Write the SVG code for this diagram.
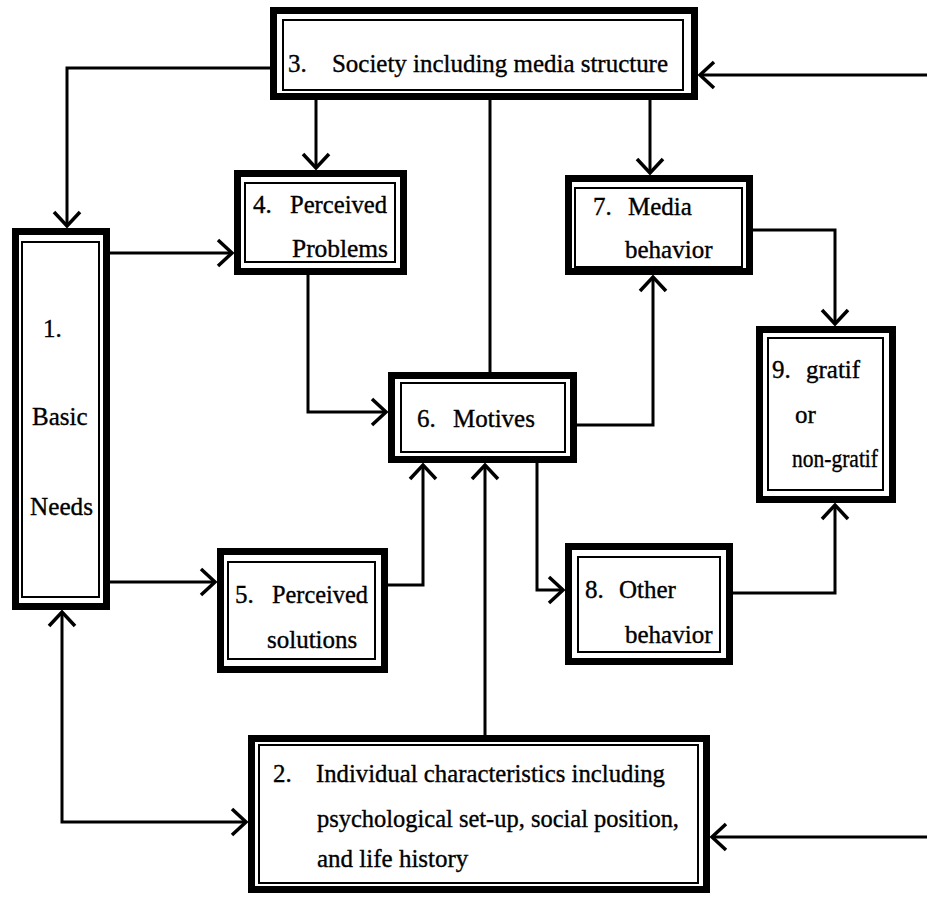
<svg xmlns="http://www.w3.org/2000/svg" width="927" height="897" viewBox="0 0 927 897">
<style>
.outer{fill:#fff;stroke:#000;stroke-width:7}
.inner{fill:none;stroke:#000;stroke-width:2}
.t{font-family:"Liberation Serif","Times New Roman",serif;font-size:25px;fill:#000;stroke:#000;stroke-width:0.35}
.c{fill:none;stroke:#000;stroke-width:3}
</style>
<defs>
<marker id="ah" viewBox="-18 -15 21 30" refX="0" refY="0" markerWidth="21" markerHeight="30" markerUnits="userSpaceOnUse" orient="auto-start-reverse">
<path d="M-14,-13 L0,0 L-14,13" fill="none" stroke="#000" stroke-width="3.5"/>
</marker>
</defs>
<rect width="927" height="897" fill="#fff"/>
<g id="connectors">
<polyline class="c" points="270,68 67,68 67,226" marker-end="url(#ah)"/>
<polyline class="c" points="927,75 700,75" marker-end="url(#ah)"/>
<polyline class="c" points="316,100 316,168" marker-end="url(#ah)"/>
<polyline class="c" points="490,100 490,372"/>
<polyline class="c" points="650,100 650,173" marker-end="url(#ah)"/>
<polyline class="c" points="110,253 232,253" marker-end="url(#ah)"/>
<polyline class="c" points="308,275 308,412 386,412" marker-end="url(#ah)"/>
<polyline class="c" points="577,425 653,425 653,277" marker-end="url(#ah)"/>
<polyline class="c" points="753,230 835,230 835,324" marker-end="url(#ah)"/>
<polyline class="c" points="110,582 215,582" marker-end="url(#ah)"/>
<polyline class="c" points="388,585 423,585 423,465" marker-end="url(#ah)"/>
<polyline class="c" points="485,735 485,465" marker-end="url(#ah)"/>
<polyline class="c" points="537,463 537,590 563,590" marker-end="url(#ah)"/>
<polyline class="c" points="733,593 835,593 835,505" marker-end="url(#ah)"/>
<polyline class="c" points="62,612 62,822 246,822" marker-start="url(#ah)" marker-end="url(#ah)"/>
<polyline class="c" points="927,837 712,837" marker-end="url(#ah)"/>
</g>
<g id="n3">
<rect class="outer" x="273.5" y="10.5" width="421" height="86"/>
<rect class="inner" x="283" y="20" width="400" height="70"/>
<text class="t" x="288" y="72">3.</text>
<text class="t" x="332" y="72" textLength="336" lengthAdjust="spacingAndGlyphs">Society including media structure</text>
</g>
<g id="n1">
<rect class="outer" x="15.5" y="231.5" width="91" height="375"/>
<rect class="inner" x="22" y="242" width="77" height="355"/>
<text class="t" x="43" y="337">1.</text>
<text class="t" x="32" y="425">Basic</text>
<text class="t" x="30" y="515" textLength="63" lengthAdjust="spacingAndGlyphs">Needs</text>
</g>
<g id="n4">
<rect class="outer" x="237.5" y="173.5" width="166" height="98"/>
<rect class="inner" x="245" y="183" width="150" height="79"/>
<text class="t" x="253" y="213">4.</text>
<text class="t" x="290" y="213" textLength="97" lengthAdjust="spacingAndGlyphs">Perceived</text>
<text class="t" x="292" y="257" textLength="96" lengthAdjust="spacingAndGlyphs">Problems</text>
</g>
<g id="n7">
<rect class="outer" x="568.5" y="178.5" width="181" height="93"/>
<rect class="inner" x="575" y="188" width="167" height="79"/>
<text class="t" x="593" y="215">7.</text>
<text class="t" x="628" y="215">Media</text>
<text class="t" x="625" y="258">behavior</text>
</g>
<g id="n6">
<rect class="outer" x="391.5" y="375.5" width="182" height="84"/>
<rect class="inner" x="401" y="383" width="164" height="69"/>
<text class="t" x="417" y="427">6.</text>
<text class="t" x="453" y="427">Motives</text>
</g>
<g id="n5">
<rect class="outer" x="220.5" y="551.5" width="164" height="118"/>
<rect class="inner" x="228" y="562" width="147" height="97"/>
<text class="t" x="235" y="603">5.</text>
<text class="t" x="272" y="603" textLength="96" lengthAdjust="spacingAndGlyphs">Perceived</text>
<text class="t" x="267" y="648">solutions</text>
</g>
<g id="n8">
<rect class="outer" x="568.5" y="546.5" width="161" height="115"/>
<rect class="inner" x="578" y="557" width="142" height="95"/>
<text class="t" x="585" y="598">8.</text>
<text class="t" x="619" y="598">Other</text>
<text class="t" x="625" y="643">behavior</text>
</g>
<g id="n9">
<rect class="outer" x="759.5" y="329.5" width="133" height="170"/>
<rect class="inner" x="768" y="338" width="115" height="152"/>
<text class="t" x="772" y="378">9.</text>
<text class="t" x="806" y="378">gratif</text>
<text class="t" x="795" y="423">or</text>
<text class="t" x="792" y="467" textLength="86" lengthAdjust="spacingAndGlyphs">non-gratif</text>
</g>
<g id="n2">
<rect class="outer" x="251.5" y="738.5" width="455" height="151"/>
<rect class="inner" x="259" y="745" width="439" height="138"/>
<text class="t" x="273" y="782">2.</text>
<text class="t" x="316" y="782" textLength="349" lengthAdjust="spacingAndGlyphs">Individual characteristics including</text>
<text class="t" x="317" y="827" textLength="362" lengthAdjust="spacingAndGlyphs">psychological set-up, social position,</text>
<text class="t" x="317" y="867">and life history</text>
</g>
</svg>
